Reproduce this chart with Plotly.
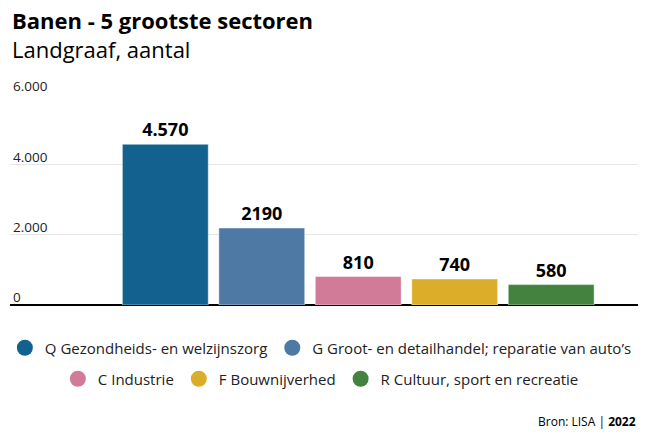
import plotly.graph_objects as go

categories = ["Q Gezondheids- en welzijnszorg", "G Groot- en detailhandel; reparatie van auto\u2019s",
              "C Industrie", "F Bouwnijverhed", "R Cultuur, sport en recreatie"]
values = [4570, 2190, 810, 740, 580]
value_labels = ["4.570", "2190", "810", "740", "580"]
colors = ["#13618F", "#4E79A5", "#D27B99", "#DBAD29", "#43833F"]
tick_vals = [0, 2000, 4000, 6000]
tick_text = ["0", "2.000", "4.000", "6.000"]

FONT = "Open Sans"
fig = go.Figure()

for i, (cat, val, lab, col) in enumerate(zip(categories, values, value_labels, colors)):
    fig.add_trace(go.Bar(
        x=[i], y=[val], text=[lab], textposition="outside", cliponaxis=False,
        textfont=dict(family=FONT, size=18, color="#000000", weight="bold"),
        marker=dict(color=col, line=dict(color="rgba(255,255,255,0.45)", width=1)),
        width=0.89, showlegend=False, name=cat, hoverinfo="skip",
    ))
    fig.add_trace(go.Scatter(
        x=[None], y=[None], mode="markers", name=cat,
        marker=dict(symbol="circle", size=18, color=col),
        legend="legend" if i < 2 else "legend2",
    ))

legend_common = dict(orientation="h", xanchor="center", yanchor="middle",
                     font=dict(family=FONT, size=15, color="#222222"), itemwidth=30,
                     tracegroupgap=0, bgcolor="rgba(0,0,0,0)")

fig.update_layout(
    width=649, height=432,
    margin=dict(l=10, r=11, t=94, b=127, autoexpand=False),
    paper_bgcolor="white", plot_bgcolor="white",
    font=dict(family=FONT, color="#000000"),
    barmode="overlay",
    xaxis=dict(range=[-1.61, 4.9], showticklabels=False, showgrid=False,
               zeroline=False, showline=False, fixedrange=True),
    yaxis=dict(range=[0, 6000], tickvals=tick_vals, ticktext=tick_text,
               ticklabelposition="inside top", ticklabeloverflow="allow",
               ticklabelshift=2,
               tickfont=dict(family=FONT, size=13.5, color="#222222"),
               showgrid=True, gridcolor="#E6E6E6", gridwidth=1,
               zeroline=True, zerolinecolor="#000000", zerolinewidth=1.5,
               showline=False, ticks="", fixedrange=True),
    legend=dict(x=0.495, y=-(348 - 305) / 211, **legend_common),
    legend2=dict(x=0.495, y=-(379 - 305) / 211, **legend_common),
    annotations=[
        dict(text="<b>Banen - 5 grootste sectoren</b><br>Landgraaf, aantal",
             x=0, xref="paper", xanchor="left", align="left",
             y=(94 - 34.5) / 211 + 1, yref="paper", yanchor="middle", showarrow=False,
             font=dict(family=FONT, size=22, color="#000000")),
        dict(text="Bron: LISA | <b>2022</b>", x=1, xref="paper", xanchor="right",
             y=-(421 - 305) / 211, yref="paper", yanchor="middle", showarrow=False,
             font=dict(family=FONT, size=12, color="#000000")),
    ],
)

fig.write_html("out.html", post_script="document.body.style.margin='0';",
               config={"displayModeBar": False})
